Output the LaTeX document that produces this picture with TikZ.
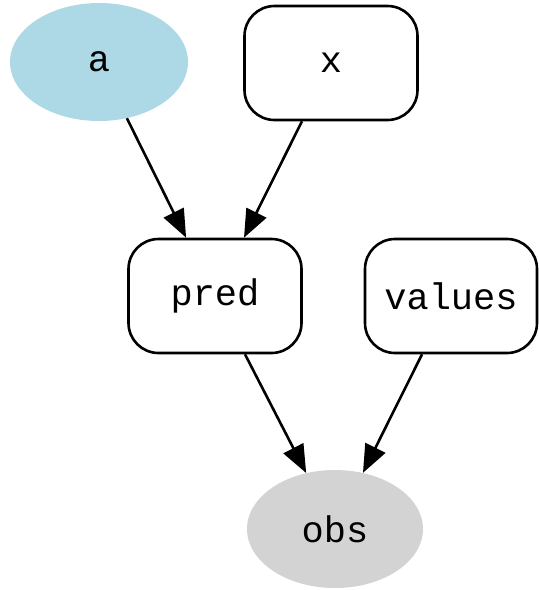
\documentclass[tikz,border=0pt]{standalone}
\usepackage{fontspec}
\setmonofont{Liberation Mono}
\usetikzlibrary{shapes.geometric,arrows.meta}
\definecolor{lblue}{HTML}{ADD8E6}
\definecolor{lgray}{HTML}{D3D3D3}
\begin{document}
\begin{tikzpicture}[x=1pt,y=-1pt,
  box/.style={draw=black,line width=2.6pt,rounded corners=30pt,minimum width=173pt,minimum height=114pt,inner sep=0pt,font=\ttfamily\fontsize{37}{42}\selectfont},
  ell/.style={ellipse,draw=none,minimum width=178pt,minimum height=118pt,inner sep=0pt,font=\ttfamily\fontsize{37}{42}\selectfont},
  conn/.style={line width=2.6pt,-{Triangle[length=28pt,width=22pt]}}]
\useasboundingbox (0,0) rectangle (539,590);
\node[ell,fill=lblue] (a) at (99,62) {a};
\node[box] (x) at (331,63) {x};
\node[box] (pred) at (215,296) {pred};
\node[box,minimum width=172pt] (values) at (451,296) {values};
\node[ell,fill=lgray,minimum width=176pt] (obs) at (335,529) {obs};
\draw[conn] (a) -- (pred);
\draw[conn] (x) -- (pred);
\draw[conn] (pred) -- (obs);
\draw[conn] (values) -- (obs);
\end{tikzpicture}
\end{document}
